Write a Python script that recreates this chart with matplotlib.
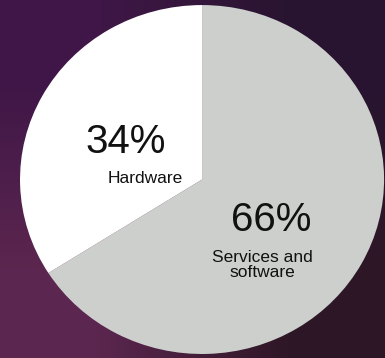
import numpy as np
import matplotlib
matplotlib.use("Agg")
import matplotlib.pyplot as plt

labels = ["Services and\nsoftware", "Hardware"]
shares = [66, 34]
colors = ["#cdcfcc", "#ffffff"]
pct_text = ["66%", "34%"]

plt.rcParams["font.family"] = ["Liberation Sans", "DejaVu Sans"]

fig = plt.figure(figsize=(3.85, 3.58), dpi=100)

# purple gradient background
bg = fig.add_axes([0, 0, 1, 1])
corners = np.array([[[0.25, 0.09, 0.28], [0.16, 0.08, 0.19]],
                    [[0.36, 0.15, 0.31], [0.18, 0.09, 0.15]]])
bg.imshow(corners, interpolation="bilinear", aspect="auto", extent=[0, 1, 0, 1])
bg.axis("off")

ax = fig.add_axes([0, 0, 1, 1])
ax.patch.set_alpha(0)
ax.pie(shares, colors=colors, startangle=90, counterclock=False, radius=1,
       wedgeprops=dict(linewidth=0))
ax.set_aspect("auto")
ax.set_xlim(-1.11, 1.005)
ax.set_ylim(-1.023, 1.029)
ax.axis("off")

ax.text(-0.418, 0.215, pct_text[1], fontsize=29, ha="center", va="center", color="#111111")
ax.text(-0.313, 0.003, labels[1], fontsize=12.5, ha="center", va="center", color="#111111")
ax.text(0.379, -0.232, pct_text[0], fontsize=29, ha="center", va="center", color="#111111")
ax.text(0.330, -0.49, labels[0], fontsize=12.5, ha="center", va="center",
        color="#111111", linespacing=1.05)

fig.savefig("out.png", dpi=100)
